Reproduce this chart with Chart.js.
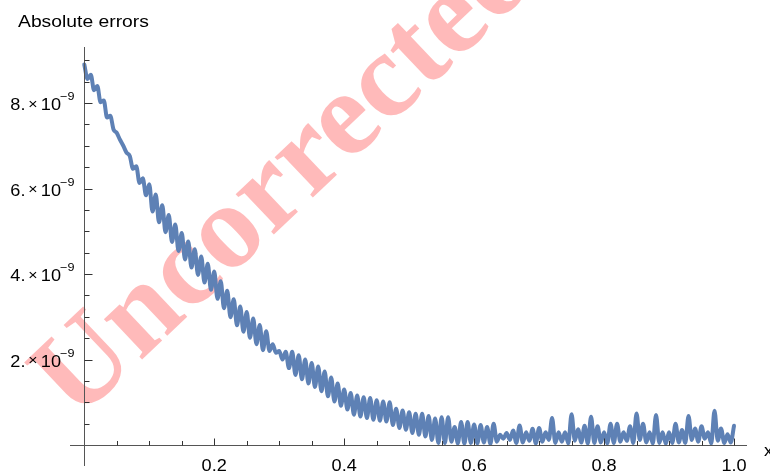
<!DOCTYPE html>
<html>
<head>
<meta charset="utf-8">
<script src="https://cdn.jsdelivr.net/npm/chart.js@4/dist/chart.umd.min.js"></script>
<style>
html,body{margin:0;padding:0;background:#fff;}
canvas{display:block;}
</style>
</head>
<body>
<canvas id="c" width="770" height="474"></canvas>
<script>
// sample positions along x
const xValues = [
0,0.005,0.01,0.015,0.02,0.025,0.03,0.035,0.04,0.045,
0.05,0.055,0.06,0.065,0.07,0.075,0.08,0.085,0.09,0.095,
0.1,0.105,0.11,0.115,0.12,0.125,0.13,0.135,0.14,0.145,
0.15,0.155,0.16,0.165,0.17,0.175,0.18,0.185,0.19,0.195,
0.2,0.205,0.21,0.215,0.22,0.225,0.23,0.235,0.24,0.245,
0.25,0.255,0.26,0.265,0.27,0.275,0.28,0.285,0.29,0.295,
0.3,0.305,0.31,0.315,0.32,0.325,0.33,0.335,0.34,0.345,
0.35,0.355,0.36,0.365,0.37,0.375,0.38,0.385,0.39,0.395,
0.4,0.405,0.41,0.415,0.42,0.425,0.43,0.435,0.44,0.445,
0.45,0.455,0.46,0.465,0.47,0.475,0.48,0.485,0.49,0.495,
0.5,0.505,0.51,0.515,0.52,0.525,0.53,0.535,0.54,0.545,
0.55,0.555,0.56,0.565,0.57,0.575,0.58,0.585,0.59,0.595,
0.6,0.605,0.61,0.615,0.62,0.625,0.63,0.635,0.64,0.645,
0.65,0.655,0.66,0.665,0.67,0.675,0.68,0.685,0.69,0.695,
0.7,0.705,0.71,0.715,0.72,0.725,0.73,0.735,0.74,0.745,
0.75,0.755,0.76,0.765,0.77,0.775,0.78,0.785,0.79,0.795,
0.8,0.805,0.81,0.815,0.82,0.825,0.83,0.835,0.84,0.845,
0.85,0.855,0.86,0.865,0.87,0.875,0.88,0.885,0.89,0.895,
0.9,0.905,0.91,0.915,0.92,0.925,0.93,0.935,0.94,0.945,
0.95,0.955,0.96,0.965,0.97,0.975,0.98,0.985,0.99,0.995,
1.0
];
// absolute errors, in units of 10^-9
const errorValues = [
8.90,8.56,8.66,8.30,8.40,8.02,8.06,7.66,7.70,7.38,
7.30,7.14,7.00,6.84,6.76,6.46,6.52,6.13,6.24,5.84,
6.10,5.46,5.86,5.21,5.61,4.98,5.38,4.75,5.16,4.54,
4.96,4.34,4.76,4.15,4.58,3.98,4.41,3.80,4.24,3.63,
4.06,3.42,3.83,3.20,3.61,2.99,3.41,2.80,3.24,2.65,
3.11,2.51,2.96,2.36,2.81,2.22,2.66,2.20,2.36,2.16,
2.20,2.00,2.18,1.80,2.18,1.64,2.10,1.54,2.00,1.44,
1.92,1.36,1.84,1.26,1.72,1.14,1.58,1.02,1.44,0.92,
1.30,0.83,1.22,0.71,1.16,0.67,1.12,0.63,1.10,0.59,
1.05,0.57,1.02,0.55,1.00,0.47,0.85,0.40,0.81,0.36,
0.77,0.28,0.73,0.24,0.73,0.20,0.68,0.12,0.62,0.05,
0.65,0.05,0.65,0.08,0.42,0.04,0.54,0.03,0.54,0.05,
0.48,0.04,0.47,0.06,0.42,0.03,0.50,0.08,0.24,0.15,
0.28,0.12,0.34,0.05,0.46,0.06,0.30,0.10,0.38,0.04,
0.40,0.08,0.30,0.12,0.63,0.05,0.30,0.08,0.30,0.04,
0.72,0.10,0.37,0.06,0.45,0.04,0.66,0.05,0.44,0.06,
0.30,0.04,0.50,0.05,0.50,0.08,0.30,0.10,0.44,0.05,
0.74,0.12,0.50,0.06,0.30,0.04,0.70,0.05,0.30,0.03,
0.30,0.05,0.50,0.06,0.35,0.05,0.68,0.12,0.39,0.08,
0.44,0.15,0.30,0.04,0.80,0.10,0.39,0.05,0.25,0.06,
0.45
];
const xMajorTicks = [0.2,0.4,0.6,0.8,1.0];
const xTickLabels = ['0.2','0.4','0.6','0.8','1.0'];
const xMinorTicks = [0.05,0.1,0.15,0.25,0.3,0.35,0.45,0.5,0.55,0.65,0.7,0.75,0.85,0.9,0.95];
const yMajorTicks = [2,4,6,8];
const yTickMantissas = ['2.','4.','6.','8.'];
const yTickExponent = '\u22129';
const yMinorTicks = [0.5,1,1.5,2.5,3,3.5,4.5,5,5.5,6.5,7,7.5,8.5,9];
const titleText = 'Absolute errors';
const xAxisLabel = 'x';
const watermarkText = 'Uncorrected';

const SX = 1.1;
const FONT = '"Liberation Sans", Arial, sans-serif';
function txt(ctx, s, x, y, size, align, color, sx) {
  ctx.save();
  ctx.font = size + 'px ' + FONT;
  ctx.fillStyle = color || '#000';
  ctx.textAlign = align || 'left';
  ctx.textBaseline = 'alphabetic';
  ctx.translate(x, y);
  ctx.scale(sx || SX, 1);
  ctx.fillText(s, 0, 0);
  ctx.restore();
}

const watermarkPlugin = {
  id: 'watermark',
  beforeDatasetsDraw(chart) {
    const ctx = chart.ctx;
    ctx.save();
    ctx.translate(288, 178);
    ctx.rotate(-43.5 * Math.PI / 180);
    ctx.font = 'bold 121px "Liberation Serif", "Times New Roman", serif';
    ctx.fillStyle = 'rgba(255,0,0,0.27)';
    ctx.textAlign = 'center';
    ctx.textBaseline = 'middle';
    ctx.fillText(watermarkText, 0, 0);
    ctx.restore();
  }
};

const axesPlugin = {
  id: 'mmaAxes',
  afterDatasetsDraw(chart) {
    const ctx = chart.ctx;
    const xs = chart.scales.x, ys = chart.scales.y;
    const x0 = Math.round(xs.getPixelForValue(0)) + 0.5;
    const y0 = Math.round(ys.getPixelForValue(0)) + 0.5;
    ctx.save();
    ctx.lineWidth = 1;
    ctx.strokeStyle = '#555';
    ctx.beginPath();
    ctx.moveTo(xs.left, y0); ctx.lineTo(xs.right, y0);
    ctx.moveTo(x0, ys.top); ctx.lineTo(x0, ys.bottom);
    ctx.stroke();
    ctx.strokeStyle = '#333';
    ctx.beginPath();
    xMajorTicks.forEach(v => { const p = Math.round(xs.getPixelForValue(v)) + 0.5; ctx.moveTo(p, y0); ctx.lineTo(p, y0 - 7); });
    xMinorTicks.forEach(v => { const p = Math.round(xs.getPixelForValue(v)) + 0.5; ctx.moveTo(p, y0); ctx.lineTo(p, y0 - 4.5); });
    yMajorTicks.forEach(v => { const p = Math.round(ys.getPixelForValue(v)) + 0.5; ctx.moveTo(x0, p); ctx.lineTo(x0 + 8, p); });
    yMinorTicks.forEach(v => { const p = Math.round(ys.getPixelForValue(v)) + 0.5; ctx.moveTo(x0, p); ctx.lineTo(x0 + 5, p); });
    ctx.stroke();
    ctx.restore();

    // x tick labels
    xMajorTicks.forEach((v, i) => {
      txt(ctx, xTickLabels[i], xs.getPixelForValue(v), y0 + 25, 16.5, 'center');
    });
    // y tick labels  m.×10^-9
    const R = x0 - 10;
    yMajorTicks.forEach((v, i) => {
      const ty = ys.getPixelForValue(v);
      txt(ctx, yTickExponent, R, ty - 3, 11.5, 'right');
      txt(ctx, '10', R - 13.5, ty + 7, 16.5, 'right');
      txt(ctx, '\u00d7', R - 37, ty + 5.5, 14.5, 'right');
      txt(ctx, yTickMantissas[i], R - 49, ty + 7, 16.5, 'right');
    });
    // title and axis label
    txt(ctx, titleText, 18, 27, 16.5, 'left', '#000', 1.17);
    txt(ctx, xAxisLabel, 764, y0 + 10, 16.5, 'left');
  }
};

new Chart(document.getElementById('c'), {
  type: 'line',
  data: {
    datasets: [{
      label: 'Absolute errors',
      data: xValues.map((x, i) => ({ x: x, y: errorValues[i] })),
      borderColor: '#5E81B5',
      borderWidth: 4,
      pointRadius: 0,
      cubicInterpolationMode: 'monotone',
      borderJoinStyle: 'round',
      borderCapStyle: 'round',
      fill: false
    }]
  },
  options: {
    responsive: false,
    animation: false,
    devicePixelRatio: 1,
    layout: { padding: { left: 70, right: 23, top: 47, bottom: 8 } },
    scales: {
      x: { type: 'linear', display: false, min: -0.022, max: 1.02 },
      y: { type: 'linear', display: false, min: -0.49, max: 9.31 }
    },
    plugins: { legend: { display: false }, tooltip: { enabled: false } }
  },
  plugins: [watermarkPlugin, axesPlugin]
});
</script>
</body>
</html>
